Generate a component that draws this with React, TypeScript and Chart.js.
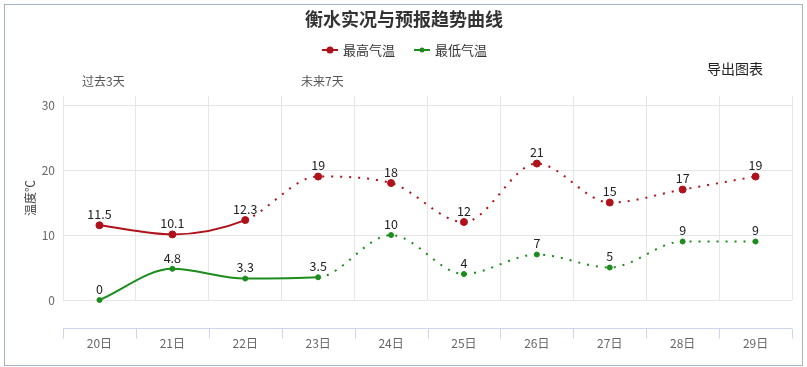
import React, { useEffect, useRef } from "react";
import { Chart, registerables } from "chart.js";

Chart.register(...registerables);

const days = ["20日", "21日", "22日", "23日", "24日", "25日", "26日", "27日", "28日", "29日"];
const highTemps = [11.5, 10.1, 12.3, 19, 18, 12, 21, 15, 17, 19];
const lowTemps = [0, 4.8, 3.3, 3.5, 10, 4, 7, 5, 9, 9];
const yTicks = [0, 10, 20, 30];
const highObservedLastIndex = 2;
const lowObservedLastIndex = 3;

const titleText = "衡水实况与预报趋势曲线";
const highName = "最高气温";
const lowName = "最低气温";
const yTitle = "温度℃";
const pastLabel = "过去3天";
const futureLabel = "未来7天";
const exportLabel = "导出图表";

const RED = "#b0121b";
const GREEN = "#1c8c1c";
const FONT = '"Noto Sans CJK SC", "Noto Sans", sans-serif';

const dataLabels = {
  id: "dataLabels",
  afterDatasetsDraw(chart: any) {
    const ctx = chart.ctx;
    ctx.save();
    ctx.font = `12.5px ${FONT}`;
    ctx.fillStyle = "#222";
    ctx.textAlign = "center";
    ctx.textBaseline = "middle";
    chart.data.datasets.forEach((ds: any, di: number) => {
      const meta = chart.getDatasetMeta(di);
      meta.data.forEach((pt: any, i: number) => {
        ctx.fillText(String(ds.data[i]), pt.x, pt.y - 11);
      });
    });
    ctx.restore();
  },
};

const decorations = {
  id: "decorations",
  beforeDatasetsDraw(chart: any) {
    const ctx = chart.ctx;
    const area = chart.chartArea;
    const xs = chart.scales.x;
    const half = (xs.getPixelForValue(1) - xs.getPixelForValue(0)) / 2;
    const axisY = area.bottom + 28.5;
    ctx.save();
    ctx.strokeStyle = "#ccd6eb";
    ctx.lineWidth = 1;
    ctx.beginPath();
    ctx.moveTo(area.left, axisY);
    ctx.lineTo(area.right, axisY);
    for (let i = 0; i <= days.length; i++) {
      const x = Math.round(xs.getPixelForValue(i) - half) + 0.5;
      ctx.moveTo(x, axisY);
      ctx.lineTo(x, axisY + 10);
    }
    ctx.stroke();
    ctx.restore();
  },
  afterDraw(chart: any) {
    const ctx = chart.ctx;
    ctx.save();
    ctx.textBaseline = "middle";
    ctx.font = `bold 18px ${FONT}`;
    ctx.fillStyle = "#333";
    ctx.textAlign = "center";
    ctx.fillText(titleText, 404, 19);
    ctx.font = `13px ${FONT}`;
    ctx.textAlign = "left";
    const items = [
      { name: highName, color: RED, x: 322, r: 3.5 },
      { name: lowName, color: GREEN, x: 414, r: 2.5 },
    ];
    items.forEach((it) => {
      ctx.strokeStyle = it.color;
      ctx.lineWidth = 2;
      ctx.beginPath();
      ctx.moveTo(it.x, 50);
      ctx.lineTo(it.x + 16, 50);
      ctx.stroke();
      ctx.fillStyle = it.color;
      ctx.beginPath();
      ctx.arc(it.x + 8, 50, it.r, 0, Math.PI * 2);
      ctx.fill();
      ctx.fillStyle = "#333";
      ctx.fillText(it.name, it.x + 21, 50);
    });
    ctx.font = `14px ${FONT}`;
    ctx.fillStyle = "#222";
    ctx.fillText(exportLabel, 707, 69);
    ctx.font = `12px ${FONT}`;
    ctx.fillStyle = "#555";
    ctx.fillText(pastLabel, 82, 81);
    ctx.fillText(futureLabel, 301, 81);
    ctx.restore();
  },
};

export default function App() {
  const ref = useRef<HTMLCanvasElement>(null);
  useEffect(() => {
    if (!ref.current) return;
    Chart.defaults.font.family = FONT;
    const chart = new Chart(ref.current, {
      type: "line",
      data: {
        labels: days,
        datasets: [
          {
            label: highName,
            data: highTemps,
            borderColor: RED,
            backgroundColor: RED,
            pointBackgroundColor: RED,
            pointBorderColor: RED,
            pointRadius: 3.5,
            pointBorderWidth: 1,
            borderWidth: 2,
            cubicInterpolationMode: "monotone",
            clip: false as any,
            segment: {
              borderDash: (c: any) => (c.p0DataIndex >= highObservedLastIndex ? [2, 7] : undefined),
            },
          },
          {
            label: lowName,
            data: lowTemps,
            borderColor: GREEN,
            backgroundColor: GREEN,
            pointBackgroundColor: GREEN,
            pointBorderColor: GREEN,
            pointRadius: 2.5,
            pointBorderWidth: 1,
            borderWidth: 2,
            cubicInterpolationMode: "monotone",
            clip: false as any,
            segment: {
              borderDash: (c: any) => (c.p0DataIndex >= lowObservedLastIndex ? [2, 7] : undefined),
            },
          },
        ],
      },
      options: {
        responsive: false,
        animation: false,
        layout: { padding: { top: 96, right: 15, left: 0, bottom: 7 } },
        plugins: {
          legend: { display: false },
          title: { display: false },
          tooltip: { enabled: false },
        },
        scales: {
          x: {
            offset: true,
            grid: { color: "#e6e6e6", drawTicks: false, offset: true },
            border: { display: false },
            ticks: { color: "#666", font: { size: 12 }, padding: 36 },
            afterFit: (s: any) => {
              s.height = 60;
            },
          },
          y: {
            min: 0,
            max: 31.4,
            afterBuildTicks: (s: any) => {
              s.ticks = yTicks.map((v) => ({ value: v }));
            },
            afterFit: (s: any) => {
              s.width = 63;
            },
            grid: { color: "#e6e6e6", drawTicks: false },
            border: { display: false },
            ticks: { color: "#666", font: { size: 12 }, padding: 8 },
            title: {
              display: true,
              text: yTitle,
              color: "#444",
              font: { size: 12 },
              padding: { top: 23, bottom: 0 },
            },
          },
        },
      },
      plugins: [dataLabels, decorations],
    });
    return () => chart.destroy();
  }, []);

  return (
    <div style={{ position: "absolute", left: 0, top: 0, width: 807, height: 367, background: "#fff" }}>
      <canvas ref={ref} width={807} height={367} style={{ position: "absolute", left: 0, top: 0 }} />
      <div
        style={{
          position: "absolute",
          left: 4,
          top: 4,
          width: 797,
          height: 360,
          border: "1.5px solid #a3b3c3",
          pointerEvents: "none",
        }}
      />
    </div>
  );
}
